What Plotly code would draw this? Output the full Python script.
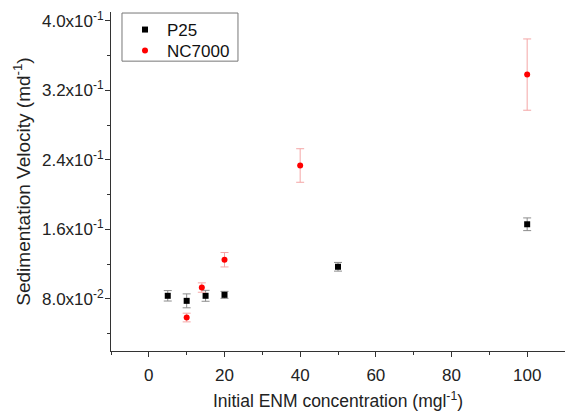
import plotly.graph_objects as go

p25_x = [5, 10, 15, 20, 50, 100]
p25_y = [0.0835, 0.0777, 0.0835, 0.0846, 0.1169, 0.1658]
p25_err = [0.006, 0.008, 0.0063, 0.004, 0.005, 0.0073]

nc_x = [10, 14, 20, 40, 100]
nc_y = [0.0585, 0.093, 0.125, 0.2334, 0.338]
nc_err = [0.005, 0.0054, 0.0083, 0.0193, 0.041]

y_tickvals = [0.08, 0.16, 0.24, 0.32, 0.40]
y_ticktext = ["8.0x10<sup>-2</sup>", "1.6x10<sup>-1</sup>", "2.4x10<sup>-1</sup>",
              "3.2x10<sup>-1</sup>", "4.0x10<sup>-1</sup>"]
y_minor = [0.04, 0.12, 0.20, 0.28, 0.36]
x_tickvals = [0, 20, 40, 60, 80, 100]
x_minor = [-10, 10, 30, 50, 70, 90, 110]

font = "Liberation Sans, Arial, sans-serif"

fig = go.Figure()
fig.add_trace(go.Scatter(
    x=p25_x, y=p25_y, mode="markers", name="P25", legend="legend",
    marker=dict(symbol="square", size=6, color="black"),
    error_y=dict(type="data", array=p25_err, color="#8c8c8c", thickness=1, width=4),
))
fig.add_trace(go.Scatter(
    x=nc_x, y=nc_y, mode="markers", name="NC7000", legend="legend2",
    marker=dict(symbol="circle", size=6, color="#ff0000"),
    error_y=dict(type="data", array=nc_err, color="#f4a6a6", thickness=1, width=4),
))

leg_common = dict(xanchor="left", yanchor="middle", bgcolor="rgba(0,0,0,0)",
                  borderwidth=0, font=dict(family=font, size=17, color="#111"),
                  itemwidth=34)

fig.update_layout(
    width=565, height=413,
    margin=dict(l=111, r=0, t=12, b=62),
    paper_bgcolor="white", plot_bgcolor="white",
    font=dict(family=font, size=17, color="#222"),
    showlegend=True,
    legend=dict(x=0.0264, y=0.9469, **leg_common),
    legend2=dict(x=0.0264, y=0.885, **leg_common),
    shapes=[dict(type="rect", xref="paper", yref="paper",
                 x0=0.0242, x1=0.2797, y0=0.855, y1=0.997,
                 line=dict(color="#777", width=1), fillcolor="white",
                 layer="above")],
    xaxis=dict(range=[-10, 110], showgrid=False, zeroline=False,
               showline=True, linecolor="#333", linewidth=1,
               ticks="outside", ticklen=5, tickcolor="#333",
               tickmode="array", tickvals=x_tickvals,
               ticklabelstandoff=4,
               minor=dict(tickmode="array", tickvals=x_minor, ticks="outside",
                          ticklen=3, tickcolor="#333"),
               tickfont=dict(size=17),
               title=dict(text="Initial ENM concentration (mgl<sup>-1</sup>)",
                          font=dict(size=17.5), standoff=10)),
    yaxis=dict(range=[0.02, 0.41], showgrid=False, zeroline=False,
               showline=True, linecolor="#333", linewidth=1,
               ticks="outside", ticklen=5, tickcolor="#333",
               tickmode="array", tickvals=y_tickvals, ticktext=y_ticktext,
               ticklabelstandoff=-2,
               minor=dict(tickmode="array", tickvals=y_minor, ticks="outside",
                          ticklen=3, tickcolor="#333"),
               tickfont=dict(size=17),
               title=dict(text="Sedimentation Velocity (md<sup>-1</sup>)",
                          font=dict(size=19), standoff=6)),
)

fig.write_html("out.html")
